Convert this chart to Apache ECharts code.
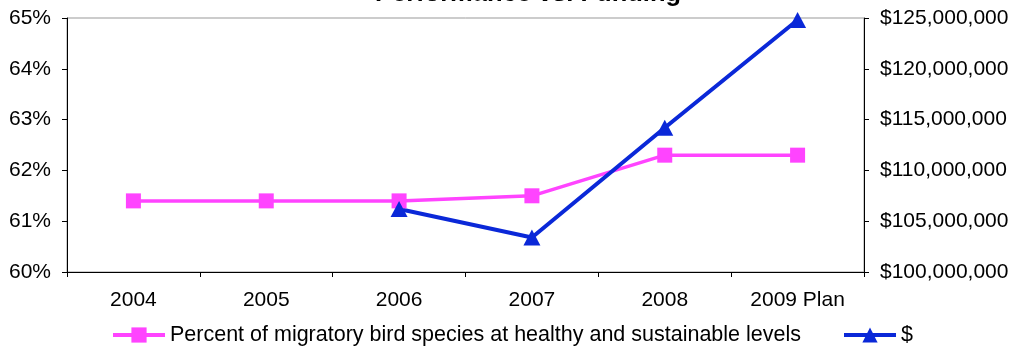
<!DOCTYPE html>
<html>
<head>
<meta charset="utf-8">
<script src="https://cdn.jsdelivr.net/npm/echarts@6/dist/echarts.min.js"></script>
<style>
html,body{margin:0;padding:0;background:#fff;}
#chart{width:1013px;height:348px;}
</style>
</head>
<body>
<div id="chart"></div>
<script>
const categories = ['2004', '2005', '2006', '2007', '2008', '2009 Plan'];
const percentName = 'Percent of migratory bird species at healthy and sustainable levels';
const percentValues = [61.4, 61.4, 61.4, 61.5, 62.3, 62.3];
const fundingName = '$';
const fundingValues = [null, null, 106200000, 103400000, 114200000, 124800000];
const titleText = 'Performance vs. Funding';

const FONT = 'Liberation Sans, Arial, sans-serif';
const PINK = '#FF44FF';
const BLUE = '#0A28D8';
const chart = echarts.init(document.getElementById('chart'));
function money(v) {
  return '$' + String(Math.round(v)).replace(/\B(?=(\d{3})+(?!\d))/g, ',');
}
chart.setOption({
  animation: false,
  backgroundColor: '#fff',
  textStyle: { fontFamily: FONT },
  title: {
    text: titleText,
    left: 523, top: -24, textAlign: 'center',
    textStyle: { fontFamily: FONT, fontWeight: 'bold', fontSize: 25.5, color: '#000' }
  },
  grid: {
    left: 67, right: 149, top: 18, bottom: 76,
    show: true, borderColor: '#999', borderWidth: 1, backgroundColor: 'transparent'
  },
  legend: {
    left: 106, top: 319,
    itemWidth: 52, itemHeight: 19, itemGap: 41,
    textStyle: { fontFamily: FONT, fontSize: 21.5, color: '#000' },
    lineStyle: { width: 4 },
    data: [percentName, fundingName]
  },
  xAxis: {
    type: 'category', data: categories, boundaryGap: true,
    axisLine: { lineStyle: { color: '#000', width: 1 } },
    axisTick: { show: true, length: 5, lineStyle: { color: '#000' } },
    axisLabel: { color: '#000', fontSize: 21, fontFamily: FONT, margin: 18 },
    splitLine: { show: false }
  },
  yAxis: [
    {
      type: 'value', min: 60, max: 65, interval: 1, position: 'left',
      axisLine: { show: true, lineStyle: { color: '#000', width: 1 } },
      axisTick: { show: true, length: 5, lineStyle: { color: '#000' } },
      axisLabel: { color: '#000', fontSize: 21, fontFamily: FONT, margin: 16, formatter: v => v + '%' },
      splitLine: { show: false }
    },
    {
      type: 'value', min: 100000000, max: 125000000, interval: 5000000, position: 'right',
      axisLine: { show: true, lineStyle: { color: '#000', width: 1 } },
      axisTick: { show: true, length: 5, lineStyle: { color: '#000' } },
      axisLabel: { color: '#000', fontSize: 21, fontFamily: FONT, margin: 16, formatter: money },
      splitLine: { show: false }
    }
  ],
  series: [
    {
      name: percentName, type: 'line', yAxisIndex: 0, data: percentValues,
      symbol: 'rect', symbolSize: 15,
      lineStyle: { color: PINK, width: 3.5 },
      itemStyle: { color: PINK }
    },
    {
      name: fundingName, type: 'line', yAxisIndex: 1, data: fundingValues,
      symbol: 'triangle', symbolSize: [17, 16],
      lineStyle: { color: BLUE, width: 4 },
      itemStyle: { color: BLUE }
    }
  ]
});
</script>
</body>
</html>
